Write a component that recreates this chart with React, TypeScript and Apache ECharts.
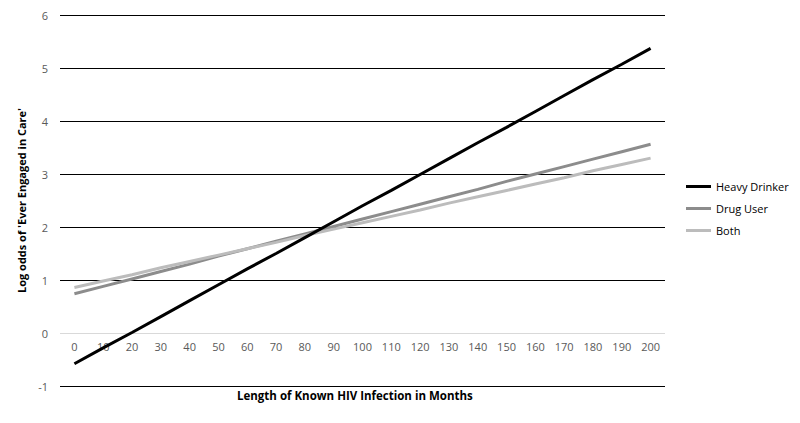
import React, { useEffect, useRef } from "react";
import * as echarts from "echarts";

const months = ["0","10","20","30","40","50","60","70","80","90","100","110","120","130","140","150","160","170","180","190","200"];
const heavyDrinker = [-0.58,-0.28,0.01,0.31,0.61,0.91,1.21,1.50,1.80,2.10,2.40,2.69,2.99,3.29,3.59,3.88,4.18,4.48,4.78,5.07,5.37];
const drugUser = [0.74,0.88,1.02,1.16,1.30,1.45,1.59,1.73,1.87,2.01,2.15,2.29,2.43,2.57,2.71,2.86,3.00,3.14,3.28,3.42,3.56];
const both = [0.86,0.98,1.10,1.23,1.35,1.47,1.59,1.71,1.84,1.96,2.08,2.20,2.32,2.45,2.57,2.69,2.81,2.93,3.06,3.18,3.30];
const yTicks = [-1, 0, 1, 2, 3, 4, 5, 6];

const FONT = "'Open Sans', sans-serif";
const GRID_TOP = 15;
const GRID_BOTTOM = 37;
const UNIT = (423 - GRID_TOP - GRID_BOTTOM) / (yTicks[yTicks.length - 1] - yTicks[0]);

export default function App() {
  const ref = useRef<HTMLDivElement>(null);
  useEffect(() => {
    document.body.style.margin = "0";
    const chart = echarts.init(ref.current!, undefined, { renderer: "svg" });
    chart.setOption({
      animation: false,
      backgroundColor: "#fff",
      textStyle: { fontFamily: FONT },
      grid: { left: 60, right: 135, top: GRID_TOP, bottom: GRID_BOTTOM, containLabel: false },
      legend: {
        orient: "vertical",
        left: 686,
        top: 179,
        padding: 0,
        icon: "rect",
        itemWidth: 25,
        itemHeight: 3,
        itemGap: 7,
        textStyle: { fontFamily: FONT, fontSize: 11, color: "#000", lineHeight: 15 },
        data: ["Heavy Drinker", "Drug User", "Both"],
      },
      xAxis: {
        type: "category",
        data: months,
        boundaryGap: true,
        offset: -UNIT * (0 - yTicks[0]),
        axisLine: { show: false, onZero: false },
        axisTick: { show: false },
        axisLabel: { color: "#595959", fontSize: 11, fontFamily: FONT, margin: 8, interval: 0 },
        splitLine: { show: false },
      },
      yAxis: {
        type: "value",
        min: yTicks[0],
        max: yTicks[yTicks.length - 1],
        interval: 1,
        axisLine: { show: false },
        axisTick: { show: false },
        axisLabel: { color: "#595959", fontSize: 11, fontFamily: FONT, margin: 12 },
        splitLine: {
          show: true,
          lineStyle: {
            color: yTicks.map((t) => (t === 0 ? "#d9d9d9" : "#000")),
            width: 1,
          },
        },
        name: "Log odds of 'Ever Engaged in Care'",
        nameLocation: "middle",
        nameGap: 32,
        nameTextStyle: { fontFamily: FONT, fontSize: 11, fontWeight: "bold", color: "#000" },
      },
      graphic: [
        {
          type: "text",
          left: 362 - 125,
          top: 389,
          style: {
            text: "Length of Known HIV Infection in Months",
            font: `bold 11.5px ${FONT}`,
            fill: "#000",
            width: 250,
            align: "center",
          },
        },
      ],
      series: [
        {
          name: "Heavy Drinker",
          type: "line",
          data: heavyDrinker,
          symbol: "none",
          lineStyle: { color: "#000", width: 3 },
          itemStyle: { color: "#000" },
          z: 5,
        },
        {
          name: "Drug User",
          type: "line",
          data: drugUser,
          symbol: "none",
          lineStyle: { color: "#8c8c8c", width: 3 },
          itemStyle: { color: "#8c8c8c" },
          z: 3,
        },
        {
          name: "Both",
          type: "line",
          data: both,
          symbol: "none",
          lineStyle: { color: "#bcbcbc", width: 3 },
          itemStyle: { color: "#bcbcbc" },
          z: 4,
        },
      ],
    });
    return () => chart.dispose();
  }, []);
  return (
    <div
      style={{
        width: 800,
        height: 423,
        boxSizing: "border-box",
        border: "2px solid #d9d9d9",
        position: "relative",
        background: "#fff",
      }}
    >
      <div ref={ref} style={{ position: "absolute", left: -2, top: -2, width: 800, height: 423 }} />
    </div>
  );
}
